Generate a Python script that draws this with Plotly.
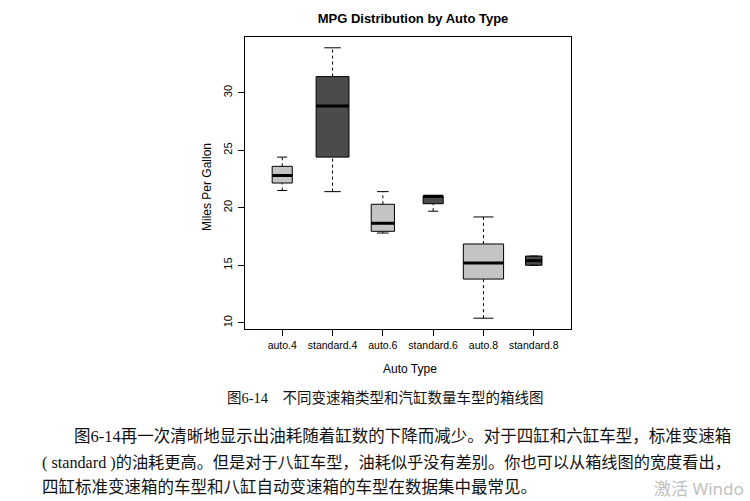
import numpy as np
import plotly.graph_objects as go

# ---- data ----
categories = ["auto.4", "standard.4", "auto.6", "standard.6", "auto.8", "standard.8"]
counts = [3, 8, 4, 3, 12, 2]
lower_whisker = [21.5, 21.4, 17.8, 19.7, 10.4, 15.0]
q1 = [22.15, 24.4, 17.95, 20.35, 13.8, 15.0]
median = [22.8, 28.85, 18.65, 21.0, 15.2, 15.4]
q3 = [23.6, 31.4, 20.3, 21.0, 16.85, 15.8]
upper_whisker = [24.4, 33.9, 21.4, 21.0, 19.2, 15.8]
y_ticks = [10, 15, 20, 25, 30]

title = "MPG Distribution by Auto Type"
x_title = "Auto Type"
y_title = "Miles Per Gallon"
caption = "图6-14　不同变速箱类型和汽缸数量车型的箱线图"
para_lines = [
    "图6-14再一次清晰地显示出油耗随着缸数的下降而减少。对于四缸和六缸车型，标准变速箱",
    "( standard )的油耗更高。但是对于八缸车型，油耗似乎没有差别。你也可以从箱线图的宽度看出，",
    "四缸标准变速箱的车型和八缸自动变速箱的车型在数据集中最常见。",
]
watermark = "激活 Windo"

# ---- styles ----
LIGHT = "#c4c4c4"
DARK = "#4b4b4b"
colors = [LIGHT, DARK] * 3
W, H = 750, 501
L, R, T, B = 245, 571, 37, 329

pos = np.arange(1, len(categories) + 1)
widths = 0.8 * np.sqrt(counts) / np.sqrt(max(counts))

fig = go.Figure()
for i, c in enumerate(categories):
    fig.add_trace(go.Box(
        x=[pos[i]], q1=[q1[i]], median=[median[i]], q3=[q3[i]],
        lowerfence=[q1[i]], upperfence=[q3[i]],
        width=widths[i], fillcolor=colors[i],
        line=dict(color="black", width=1), whiskerwidth=0,
        boxpoints=False, showlegend=False, hoverinfo="skip",
    ))
    p, hw = pos[i], widths[i] / 2
    # dashed whiskers
    for a, b in ((lower_whisker[i], q1[i]), (q3[i], upper_whisker[i])):
        if b != a:
            fig.add_trace(go.Scatter(x=[p, p], y=[a, b], mode="lines",
                                     line=dict(color="black", width=1, dash="3px,3px"),
                                     showlegend=False, hoverinfo="skip"))
    # staples
    for v in (lower_whisker[i], upper_whisker[i]):
        fig.add_trace(go.Scatter(x=[p - hw / 2, p + hw / 2], y=[v, v], mode="lines",
                                 line=dict(color="black", width=1),
                                 showlegend=False, hoverinfo="skip"))
    # thick median
    fig.add_trace(go.Scatter(x=[p - hw, p + hw], y=[median[i], median[i]], mode="lines",
                             line=dict(color="black", width=3),
                             showlegend=False, hoverinfo="skip"))

all_vals = lower_whisker + upper_whisker
lo, hi = min(all_vals), max(all_vals)
ext = 0.04 * (hi - lo)
xext = 0.04 * len(categories)

fig.update_layout(
    width=W, height=H,
    margin=dict(l=L, r=W - R, t=T, b=H - B, pad=0),
    paper_bgcolor="white", plot_bgcolor="white",
    font=dict(family="Liberation Sans, Arial, sans-serif", color="black"),
    title=dict(text="<b>" + title + "</b>", x=413 / W, xanchor="center",
               y=1 - 18 / H, yanchor="middle", font=dict(size=13)),
    xaxis=dict(range=[0.5 - xext, len(categories) + 0.5 + xext],
               tickvals=list(pos), ticktext=categories,
               showgrid=False, zeroline=False, showline=True, mirror=True,
               linecolor="black", linewidth=1, ticks="outside", ticklen=6,
               tickcolor="black", tickfont=dict(size=10.5)),
    yaxis=dict(range=[lo - ext, hi + ext], tickvals=y_ticks,
               showgrid=False, zeroline=False, showline=True, mirror=True,
               linecolor="black", linewidth=1, ticks="outside", ticklen=6,
               tickcolor="black", tickangle=-90, tickfont=dict(size=11),
               ticklabelstandoff=2),
)

def px_x(px):
    return (px - L) / (R - L)

def px_y(py):
    return (B - py) / (B - T)

ann = [
    dict(text=x_title, x=px_x(410), y=px_y(369), size=12, anchor="center", color="black",
         family="Liberation Sans, Arial, sans-serif", angle=0),
    dict(text=y_title, x=px_x(207), y=px_y(187), size=12, anchor="center", color="black",
         family="Liberation Sans, Arial, sans-serif", angle=-90),
]
for a in ann:
    fig.add_annotation(text=a["text"], xref="paper", yref="paper", x=a["x"], y=a["y"],
                       xanchor=a["anchor"], yanchor="middle", showarrow=False,
                       textangle=a["angle"],
                       font=dict(size=a["size"], color=a["color"], family=a["family"]))

SERIF = "Liberation Serif, Noto Sans CJK SC, serif"
fig.add_annotation(text=caption, xref="paper", yref="paper", x=px_x(385), y=px_y(397),
                   xanchor="center", yanchor="middle", showarrow=False,
                   font=dict(size=14.5, family=SERIF, color="#111111"))
line_x = [72, 40, 40]
line_y = [436, 462, 487]
line_size = [16.5, 16.2, 16.5]
for t, lx, ly, fs in zip(para_lines, line_x, line_y, line_size):
    fig.add_annotation(text=t, xref="paper", yref="paper", x=px_x(lx), y=px_y(ly),
                       xanchor="left", yanchor="middle", showarrow=False,
                       font=dict(size=fs, family=SERIF, color="#111111"))
fig.add_annotation(text=watermark, xref="paper", yref="paper", x=px_x(652), y=px_y(488),
                   xanchor="left", yanchor="middle", showarrow=False,
                   font=dict(size=17, family="Noto Sans, Noto Sans CJK SC, sans-serif",
                             color="#c0c0c0"))

fig.write_html("out.html")
